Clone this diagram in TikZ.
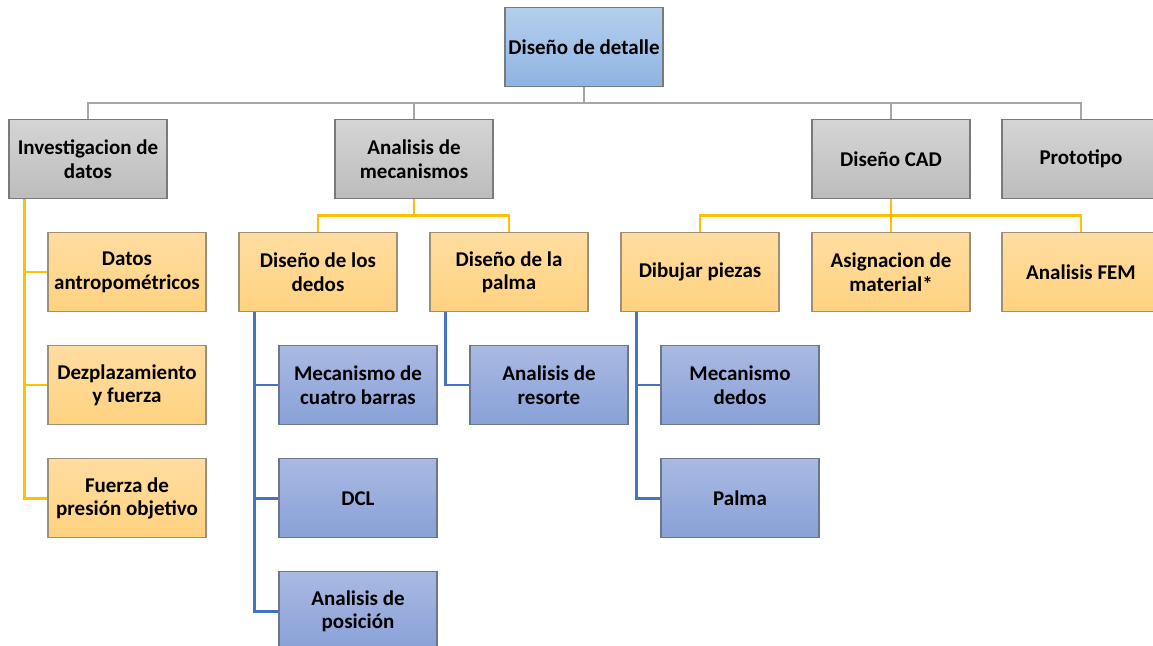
\documentclass[tikz,border=0pt]{standalone}
\usepackage{fontspec}
\setmainfont{Carlito}
\usepackage{tikz}
\usetikzlibrary{positioning}
\definecolor{grayfill}{HTML}{D5D5D5}
\definecolor{grayfill2}{HTML}{BCBCBC}
\definecolor{grayedge}{HTML}{7A7A7A}
\definecolor{yelfill}{HTML}{FFDDA1}
\definecolor{yelfill2}{HTML}{FFD27F}
\definecolor{yeledge}{HTML}{9E9078}
\definecolor{blufill}{HTML}{A9B9E2}
\definecolor{blufill2}{HTML}{89A1D8}
\definecolor{bluedge}{HTML}{6B788C}
\definecolor{topfill}{HTML}{B4CFEE}
\definecolor{topfill2}{HTML}{8EB4E2}
\definecolor{glinec}{HTML}{A6A6A6}
\definecolor{ylinec}{HTML}{FFC000}
\definecolor{blinec}{HTML}{4472C4}
\tikzset{
  box/.style={draw=grayedge,line width=1.1pt,minimum width=158pt,minimum height=79pt,inner sep=2pt,align=center,
    font=\bfseries\fontsize{21}{23.5}\selectfont},
  tbox/.style={box,top color=topfill,bottom color=topfill2},
  gbox/.style={box,top color=grayfill,bottom color=grayfill2},
  ybox/.style={box,draw=yeledge,top color=yelfill,bottom color=yelfill2},
  bbox/.style={box,draw=bluedge,top color=blufill,bottom color=blufill2},
  glink/.style={draw=glinec,line width=2.5pt},
  ylink/.style={draw=ylinec,line width=2.5pt},
  blink/.style={draw=blinec,line width=2.5pt},
}
\begin{document}
\begin{tikzpicture}[x=1pt,y=1pt,node distance=33pt and 40pt]
\useasboundingbox (0,0) rectangle (1153,-645);
\node[tbox] (top) at (584,-47) {Diseño de detalle};
\node[gbox] (inv) at (88,-159) {Investigacion de\\datos};
\node[gbox] (mec) at (414,-159) {Analisis de\\mecanismos};
\node[gbox] (cad) at (891,-159) {Diseño CAD};
\node[gbox] (pro) at (1081,-159) {Prototipo};
% datos
\node[ybox,below=of inv,xshift=39pt] (ant) {Datos\\antropométricos};
\node[ybox,below=of ant] (dez) {Dezplazamiento\\y fuerza};
\node[ybox,below=of dez] (fue) {Fuerza de\\presión objetivo};
% mecanismos
\node[ybox,below=of mec,xshift=-96pt] (ded) {Diseño de los\\dedos};
\node[ybox,below=of mec,xshift=95pt] (pal) {Diseño de la\\palma};
\node[bbox,below=of ded,xshift=40pt] (cua) {Mecanismo de\\cuatro barras};
\node[bbox,below=of cua] (dcl) {DCL};
\node[bbox,below=of dcl] (pos) {Analisis de\\posición};
\node[bbox,below=of pal,xshift=40pt] (res) {Analisis de\\resorte};
% CAD
\node[ybox,below=of cad,xshift=-191pt] (dib) {Dibujar piezas};
\node[ybox,below=of cad] (asi) {Asignacion de\\material*};
\node[ybox,below=of pro] (fem) {Analisis FEM};
\node[bbox,below=of dib,xshift=40pt] (mde) {Mecanismo\\dedos};
\node[bbox,below=of mde] (pma) {Palma};
% connectors
\foreach \n in {inv,mec,cad,pro} \draw[glink] (top.south) -- ++(0,-16) -| (\n.north);
\foreach \n in {ant,dez,fue} \draw[ylink] ([xshift=16pt]inv.south west) |- (\n.west);
\foreach \n in {ded,pal} \draw[ylink] (mec.south) -- ++(0,-16.5) -| (\n.north);
\foreach \n in {dib,asi,fem} \draw[ylink] (cad.south) -- ++(0,-16.5) -| (\n.north);
\foreach \n in {cua,dcl,pos} \draw[blink] ([xshift=16pt]ded.south west) |- (\n.west);
\draw[blink] ([xshift=16pt]pal.south west) |- (res.west);
\foreach \n in {mde,pma} \draw[blink] ([xshift=16pt]dib.south west) |- (\n.west);
\end{tikzpicture}
\end{document}
